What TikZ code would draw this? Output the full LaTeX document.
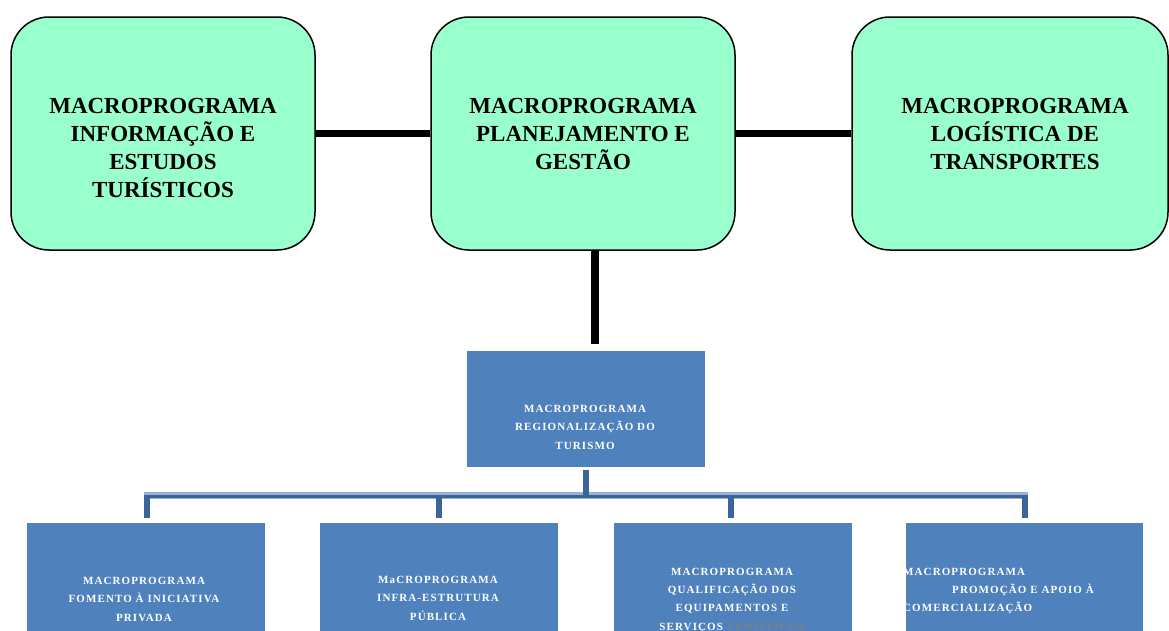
\documentclass[tikz,border=0pt]{standalone}
\usepackage{fontspec}
\setmainfont{Liberation Serif}
\newfontfamily\boxfont[LetterSpace=10]{Liberation Serif}

\definecolor{mint}{HTML}{99FFCC}
\definecolor{steel}{HTML}{4F81BD}
\definecolor{busdark}{HTML}{3D6499}
\definecolor{buslight}{HTML}{95B3D7}
\definecolor{greytext}{HTML}{7F7F7F}

\tikzset{
  topbox/.style={draw=black, line width=1.5pt, fill=mint, rounded corners=38pt,
    minimum height=233pt, inner sep=0pt},
  toptext/.style={font=\bfseries\fontsize{23}{28}\selectfont, align=center,
    anchor=north, inner sep=0pt},
  bluebox/.style={fill=steel, minimum width=238pt, inner sep=0pt},
  bluetext/.style={text=white, font=\boxfont\bfseries\fontsize{11}{18.5}\selectfont,
    align=center, anchor=north, inner sep=0pt},
  link/.style={line width=7pt, black},
  stub/.style={line width=6pt, busdark},
}

\begin{document}
\begin{tikzpicture}[x=1pt, y=-1pt]
\useasboundingbox (0,0) rectangle (1169,630);
\clip (0,0) rectangle (1169,630);

% upper row of macro-programmes
\node[topbox, minimum width=304pt] (info) at (163,133.5) {};
\node[topbox, minimum width=304pt] (plan) at (583,133.5) {};
\node[topbox, minimum width=316pt] (logi) at (1010,133.5) {};

\node[toptext] (infoT) at (163,97.8) {MACROPROGRAMA\\INFORMAÇÃO E\\ESTUDOS\\TURÍSTICOS};
\node[toptext] (planT) at (583,97.8) {MACROPROGRAMA\\PLANEJAMENTO E\\GESTÃO};
\node[toptext] (logiT) at (1015,97.8) {MACROPROGRAMA\\LOGÍSTICA DE\\TRANSPORTES};

% regionalisation box
\node[bluebox, minimum height=116pt] (regi) at (586,409) {};
\node[bluetext] (regiT) at (585,404.7) {MACROPROGRAMA\\REGIONALIZAÇÃO DO\\TURISMO};

% lower row
\node[bluebox, minimum height=127pt] (fome) at (145.5,586.5) {};
\node[bluebox, minimum height=127pt] (infr) at (438.5,586.5) {};
\node[bluebox, minimum height=127pt] (qual) at (732.5,586.5) {};
\node[bluebox, minimum height=127pt, minimum width=237pt] (prom) at (1024.5,586.5) {};

\node[bluetext] (fomeT) at (144,576.7) {MACROPROGRAMA\\FOMENTO À INICIATIVA\\PRIVADA};
\node[bluetext] (infrT) at (438,575.7) {MaCROPROGRAMA\\INFRA-ESTRUTURA\\PÚBLICA};
\node[bluetext, font=\boxfont\bfseries\fontsize{11}{18.3}\selectfont] (qualT) at (732,567.7)
  {MACROPROGRAMA\\QUALIFICAÇÃO DOS\\EQUIPAMENTOS E\\SERVIÇOS {\color{greytext}TURÍSTICOS}};
\node[bluetext, align=left, anchor=north west, font=\boxfont\bfseries\fontsize{11}{18.3}\selectfont]
  (promT) at (903,567.7)
  {MACROPROGRAMA\\\hspace*{49pt}PROMOÇÃO E APOIO À\\COMERCIALIZAÇÃO};

% black links between the upper boxes
\draw[link] (info.east) -- (plan.west);
\draw[link] (plan.east) -- (logi.west);
\draw[link, line width=8pt, shorten >=7pt]
  ([xshift=12pt]plan.south) -- ([xshift=12pt]plan.south |- regi.north);

% distribution bus to the lower row
\coordinate (busL) at (144,495.5);
\coordinate (busR) at (1028,495.5);
\draw[buslight, line width=7pt] (busL) -- (busR);
\draw[busdark, line width=3pt] ([yshift=-0.5pt]busL) -- ([yshift=-0.5pt]busR);
\draw[stub, shorten <=3pt] (regi.south) -- (regi.south |- busL);
\foreach \b/\dx in {fome/1.5, infr/0.5, qual/-1.5, prom/0} {
  \draw[stub, shorten >=5pt] ([xshift=\dx pt]\b.north |- busL) -- ([xshift=\dx pt]\b.north);
}
\end{tikzpicture}
\end{document}
